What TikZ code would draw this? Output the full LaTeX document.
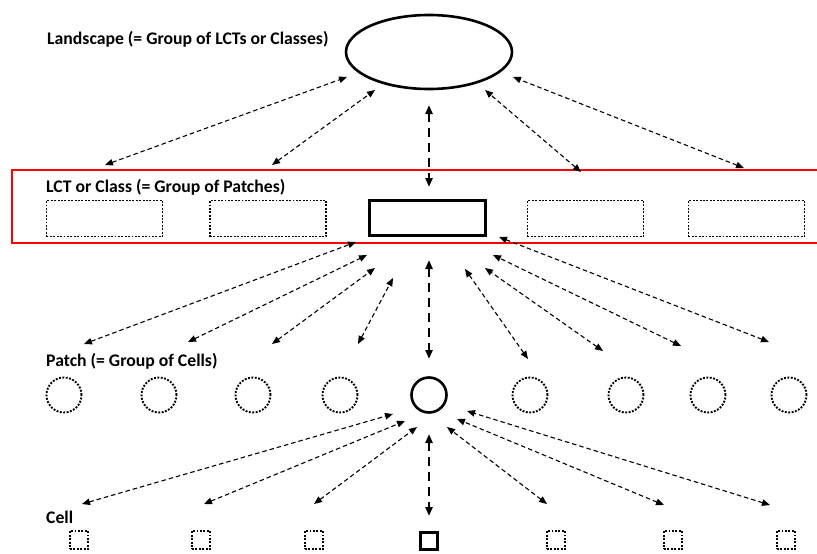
\documentclass[tikz,border=0pt]{standalone}
\usepackage{fontspec}
\setmainfont{Carlito}
\usetikzlibrary{shapes.geometric,arrows.meta}
\begin{document}
\begin{tikzpicture}[x=1pt,y=-1pt,
  lbl/.style={anchor=base west,inner sep=0pt,font=\fontsize{17.7}{20}\selectfont\bfseries},
  dotln/.style={line width=1.9pt,dash pattern=on 1.9pt off 1.5pt},
  dotbox/.style={draw,dotln,minimum width=116pt,minimum height=36pt,inner sep=0pt},
  thickbox/.style={draw,line width=2.6pt,minimum width=116pt,minimum height=35pt,inner sep=0pt},
  dotcirc/.style={draw,dotln,circle,minimum size=35pt,inner sep=0pt},
  thickcirc/.style={draw,line width=2.6pt,circle,minimum size=35pt,inner sep=0pt},
  dotsq/.style={draw,dotln,minimum size=18pt,inner sep=0pt},
  thicksq/.style={draw,line width=2.6pt,minimum size=17pt,inner sep=0pt},
  link/.style={{Triangle[length=8pt,width=6.5pt]}-{Triangle[length=8pt,width=6.5pt]},line width=1.1pt,dash pattern=on 4.5pt off 3pt},
  vlink/.style={{Triangle[length=9pt,width=7pt]}-{Triangle[length=9pt,width=7pt]},line width=2.2pt,dash pattern=on 9pt off 6pt}
]
\useasboundingbox (0,0) rectangle (817,554);
% landscape
\node[lbl] (tland) at (47,45) {Landscape (= Group of LCTs or Classes)};
\node[draw,ellipse,line width=2.6pt,minimum width=166pt,minimum height=74pt,inner sep=0pt] (land) at (429,52) {};
% LCT band
\draw[red,line width=1.8pt] (830,170) -- (12,170) -- (12,243) -- (830,243);
\node[lbl] (tlct) at (46,192) {LCT or Class (= Group of Patches)};
\node[dotbox] (l1) at (104.5,218.5) {};
\node[dotbox] (l2) at (268,218.5) {};
\node[thickbox] (l3) at (427.5,218) {};
\node[dotbox] (l4) at (585.5,218.5) {};
\node[dotbox] (l5) at (746.5,218.5) {};
% patches
\node[lbl] (tpatch) at (46,366) {Patch (= Group of Cells)};
\node[dotcirc] (p1) at (64,395) {};
\node[dotcirc] (p2) at (159,395) {};
\node[dotcirc] (p3) at (253,395) {};
\node[dotcirc] (p4) at (340,395) {};
\node[thickcirc] (p5) at (429,395) {};
\node[dotcirc] (p6) at (530,395) {};
\node[dotcirc] (p7) at (626,395) {};
\node[dotcirc] (p8) at (708,395) {};
\node[dotcirc] (p9) at (789,395) {};
% cells
\node[lbl] (tcell) at (46,523) {Cell};
\node[dotsq] (c1) at (79,540) {};
\node[dotsq] (c2) at (201,540) {};
\node[dotsq] (c3) at (314,540) {};
\node[thicksq] (c4) at (429,541) {};
\node[dotsq] (c5) at (556,540) {};
\node[dotsq] (c6) at (673,540) {};
\node[dotsq] (c7) at (786,540) {};
% connector end points
\coordinate (a1s) at (105,165); \coordinate (a1e) at (347,77);
\coordinate (a2s) at (272,165); \coordinate (a2e) at (375,90);
\coordinate (a3s) at (581,172); \coordinate (a3e) at (485,90);
\coordinate (a4s) at (744,168); \coordinate (a4e) at (513,77);
\coordinate (va1) at (429,105); \coordinate (va2) at (429,187);
\coordinate (b1s) at (84,344); \coordinate (b1e) at (356,242);
\coordinate (b2s) at (188,342); \coordinate (b2e) at (367,255);
\coordinate (b3s) at (272,344); \coordinate (b3e) at (375,268);
\coordinate (b4s) at (358,344); \coordinate (b4e) at (393,278);
\coordinate (vb1) at (429,260); \coordinate (vb2) at (429,359);
\coordinate (b5s) at (528,359); \coordinate (b5e) at (465,269);
\coordinate (b6s) at (603,351); \coordinate (b6e) at (485,268);
\coordinate (b7s) at (681,346); \coordinate (b7e) at (493,255);
\coordinate (b8s) at (769,342); \coordinate (b8e) at (499,237);
\coordinate (d1s) at (82,504); \coordinate (d1e) at (393,414);
\coordinate (d2s) at (204,504); \coordinate (d2e) at (405,421);
\coordinate (d3s) at (314,504); \coordinate (d3e) at (417,427);
\coordinate (vc1) at (429,434); \coordinate (vc2) at (429,516);
\coordinate (d5s) at (547,504); \coordinate (d5e) at (447,427);
\coordinate (d6s) at (664,505); \coordinate (d6e) at (457,419);
\coordinate (d7s) at (770,505); \coordinate (d7e) at (467,411);
% connectors
\foreach \s/\e in {a1s/a1e,a2s/a2e,a3s/a3e,a4s/a4e,b1s/b1e,b2s/b2e,b3s/b3e,b4s/b4e,b5s/b5e,b6s/b6e,b7s/b7e,b8s/b8e,d1s/d1e,d2s/d2e,d3s/d3e,d5s/d5e,d6s/d6e,d7s/d7e}
  \draw[link] (\s) -- (\e);
\draw[vlink] (va1) -- (va2);
\draw[vlink] (vb1) -- (vb2);
\draw[vlink] (vc1) -- (vc2);
\end{tikzpicture}
\end{document}
